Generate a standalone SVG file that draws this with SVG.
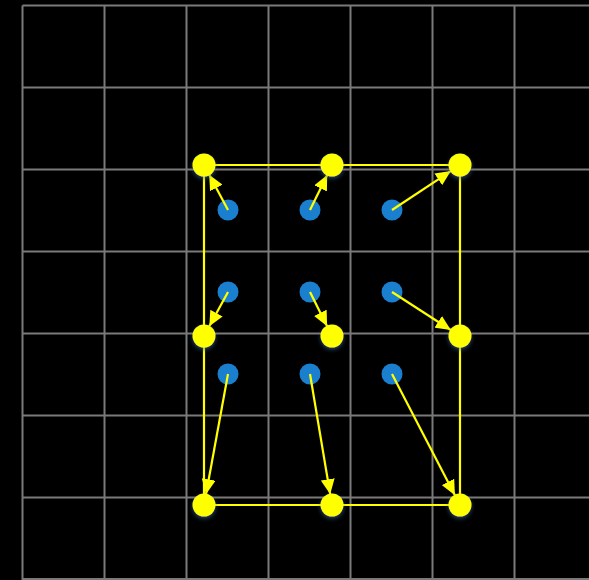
<svg xmlns="http://www.w3.org/2000/svg" width="589" height="580" viewBox="0 0 589 580">
<defs>
<style>
.grid{stroke:#7a7a7a;stroke-width:2;fill:none}
.edge{stroke:#ffff00;stroke-width:2.2;fill:none}
.arrow{stroke:#ffff00;stroke-width:2.2;fill:none;marker-end:url(#ah)}
.node{fill:#ffff00;filter:url(#glow)}
.dot{fill:#1a7fcf}
</style>
<marker id="ah" markerUnits="userSpaceOnUse" markerWidth="16" markerHeight="14" refX="15" refY="7" orient="auto">
<path d="M0,0 L15,7 L0,14 z" fill="#ffff00"/>
</marker>
<filter id="glow" x="-50%" y="-50%" width="200%" height="200%">
<feDropShadow dx="0" dy="2" stdDeviation="2" flood-color="#3a6ea8" flood-opacity="0.6"/>
</filter>
</defs>
<rect width="589" height="580" fill="#000"/>
<g id="grid" class="grid">
<path d="M22.5,5.5V580M104.5,5.5V580M186.5,5.5V580M268.5,5.5V580M350.5,5.5V580M432.5,5.5V580M514.5,5.5V580"/>
<path d="M22.5,5.5H589M22.5,87.5H589M22.5,169.5H589M22.5,251.5H589M22.5,333.5H589M22.5,415.5H589M22.5,497.5H589M22.5,579H589"/>
</g>
<g id="edges">
<path class="edge" d="M204,165H460V505H204Z"/>
</g>
<g id="dots">
<g id="d1"><circle class="dot" cx="228" cy="210" r="10.5"/></g>
<g id="d2"><circle class="dot" cx="310" cy="210" r="10.5"/></g>
<g id="d3"><circle class="dot" cx="392" cy="210" r="10.5"/></g>
<g id="d4"><circle class="dot" cx="228" cy="292" r="10.5"/></g>
<g id="d5"><circle class="dot" cx="310" cy="292" r="10.5"/></g>
<g id="d6"><circle class="dot" cx="392" cy="292" r="10.5"/></g>
<g id="d7"><circle class="dot" cx="228" cy="374" r="10.5"/></g>
<g id="d8"><circle class="dot" cx="310" cy="374" r="10.5"/></g>
<g id="d9"><circle class="dot" cx="392" cy="374" r="10.5"/></g>
</g>
<g id="connectors">
<line class="arrow" x1="228" y1="210" x2="209.2" y2="174.7"/>
<line class="arrow" x1="310" y1="210" x2="327.2" y2="174.9"/>
<line class="arrow" x1="392" y1="210" x2="450.8" y2="171.1"/>
<line class="arrow" x1="228" y1="292" x2="209.3" y2="326.3"/>
<line class="arrow" x1="310" y1="292" x2="327.1" y2="326.2"/>
<line class="arrow" x1="392" y1="292" x2="450.8" y2="330.0"/>
<line class="arrow" x1="228" y1="374" x2="206.0" y2="494.2"/>
<line class="arrow" x1="310" y1="374" x2="330.2" y2="494.2"/>
<line class="arrow" x1="392" y1="374" x2="454.9" y2="495.2"/>
</g>
<g id="nodes">
<g id="n1"><circle class="node" cx="204" cy="165" r="11.5"/></g>
<g id="n2"><circle class="node" cx="332" cy="165" r="11.5"/></g>
<g id="n3"><circle class="node" cx="460" cy="165" r="11.5"/></g>
<g id="n4"><circle class="node" cx="204" cy="336" r="11.5"/></g>
<g id="n5"><circle class="node" cx="332" cy="336" r="11.5"/></g>
<g id="n6"><circle class="node" cx="460" cy="336" r="11.5"/></g>
<g id="n7"><circle class="node" cx="204" cy="505" r="11.5"/></g>
<g id="n8"><circle class="node" cx="332" cy="505" r="11.5"/></g>
<g id="n9"><circle class="node" cx="460" cy="505" r="11.5"/></g>
</g>
</svg>
